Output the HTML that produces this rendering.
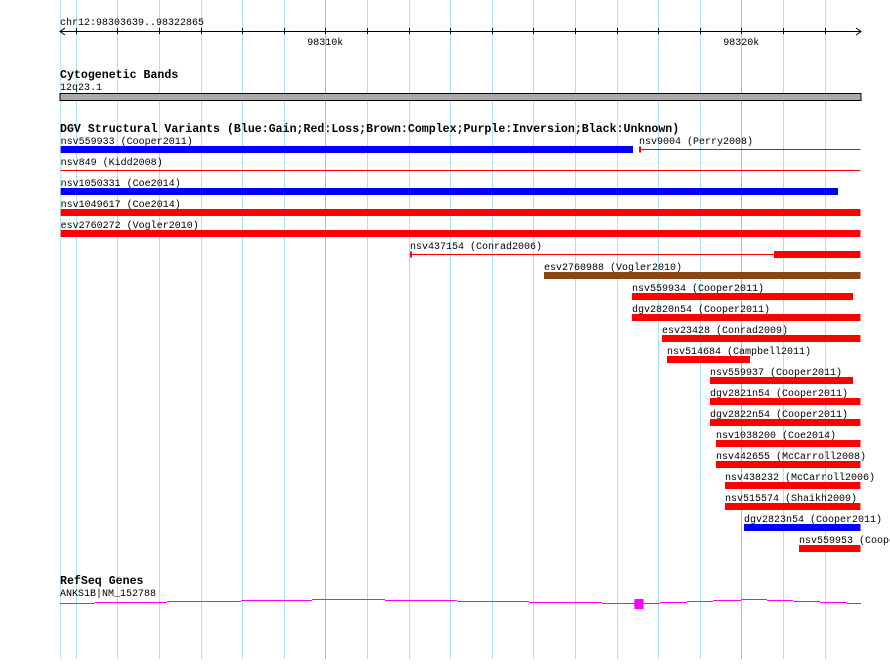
<!DOCTYPE html>
<html><head><meta charset="utf-8"><style>
body{margin:0;background:#fff;}
svg text{font-family:"Liberation Mono","DejaVu Sans Mono",monospace;}
</style></head><body>
<svg id="c" width="890" height="659" xmlns="http://www.w3.org/2000/svg">
<rect x="0" y="0" width="890" height="659" fill="#fff"/>
<g id="grid"></g>
<g id="ruler"></g>
<text x="60" y="25" font-size="10" fill="#000">chr12:98303639..98322865</text>
<text x="60" y="78" font-size="11.6" font-weight="bold" fill="#000">Cytogenetic Bands</text>
<text x="60" y="90" font-size="10" fill="#000">12q23.1</text>
<rect x="60" y="93.5" width="801" height="7" fill="#aaa" stroke="#000" stroke-width="1"/>
<text x="60" y="132" font-size="11.6" font-weight="bold" fill="#000">DGV Structural Variants (Blue:Gain;Red:Loss;Brown:Complex;Purple:Inversion;Black:Unknown)</text>
<g id="feats"></g>
<text x="60" y="584" font-size="11.6" font-weight="bold" fill="#000">RefSeq Genes</text>
<text x="60" y="596" font-size="10" fill="#000">ANKS1B|NM_152788</text>
<g id="gene"></g>
</svg>
<script>
const NS="http://www.w3.org/2000/svg";
const regionStart=98303639, regionEnd=98322865;
const names=["nsv559933 (Cooper2011)","nsv9004 (Perry2008)","nsv849 (Kidd2008)","nsv1050331 (Coe2014)","nsv1049617 (Coe2014)","esv2760272 (Vogler2010)","nsv437154 (Conrad2006)","esv2760988 (Vogler2010)","nsv559934 (Cooper2011)","dgv2820n54 (Cooper2011)","esv23428 (Conrad2009)","nsv514684 (Campbell2011)","nsv559937 (Cooper2011)","dgv2821n54 (Cooper2011)","dgv2822n54 (Cooper2011)","nsv1038200 (Coe2014)","nsv442655 (McCarroll2008)","nsv438232 (McCarroll2006)","nsv515574 (Shaikh2009)","dgv2823n54 (Cooper2011)","nsv559953 (Cooper2011)"];
const starts=[98303639,98317541,98303639,98303639,98303639,98303639,98312036,98315257,98317373,98317373,98318094,98318214,98319248,98319248,98319248,98319392,98319392,98319608,98319608,98320065,98321387];
const ends=[98317397,98322865,98322865,98322325,98322865,98322865,98322865,98322865,98322685,98322865,98322865,98320209,98322685,98322865,98322865,98322865,98322865,98322865,98322865,98322865,98322865];
const types=["gain","loss-thin","loss-thin","gain","loss","loss","loss-split","complex","loss","loss","loss","loss","loss","loss","loss","loss","loss","loss","loss","gain","loss"];
const rows=[0,0,1,2,3,4,5,6,7,8,9,10,11,12,13,14,15,16,17,18,19];
const splitThick=[0,0,0,0,0,0,98320786,0,0,0,0,0,0,0,0,0,0,0,0,0,0];
const tickKb=[98304,98305,98306,98307,98308,98309,98310,98311,98312,98313,98314,98315,98316,98317,98318,98319,98320,98321,98322];
const tickLabels=["98310k","98320k"];
const exonStart=[98317430], exonEnd=[98317650];
function X(bp){return 325.3+(bp-98310000)*0.0416;}
function mk(tag,attrs,parent){const e=document.createElementNS(NS,tag);for(const k in attrs)e.setAttribute(k,attrs[k]);parent.appendChild(e);return e;}
const grid=document.getElementById('grid'), ruler=document.getElementById('ruler');
mk('line',{x1:X(regionStart),x2:X(regionStart),y1:0,y2:659,stroke:'#a8e4ee'},grid);
tickKb.forEach(kb=>{
 const x=Math.round(X(kb*1000))+0.5;
 const major=kb%10===0;
 const l=mk('line',{x1:x,x2:x,y1:0,y2:659,stroke:major?'#8cc8e8':'#a8e4ee'},grid);
 
 
 const t=mk('line',{x1:x,x2:x,y1:28,y2:34,stroke:'#000'},ruler);
 
 
 if(major){const lab=tickLabels.find(s=>s===(kb/1000*1000/1000*1000/1000)+'k')||(kb/1000|0)+'';}
});
tickLabels.forEach(s=>{
 const kb=parseInt(s);
 const t=mk('text',{x:X(kb*1000),y:45,'font-size':10,'text-anchor':'middle',fill:'#000'},ruler);
 t.textContent=s;
 
 
});
const axl=mk('line',{x1:60,x2:861,y1:31.5,y2:31.5,stroke:'#000'},ruler);


mk('polyline',{points:'65,28 60,31.5 65,35',fill:'none',stroke:'#000'},ruler);
mk('polyline',{points:'856,28 861,31.5 856,35',fill:'none',stroke:'#000'},ruler);
const feats=document.getElementById('feats');
const colors={gain:'#0000ff',loss:'#ff0000','loss-thin':'#ff0000','loss-split':'#ff0000',complex:'#8b4513'};
names.forEach((n,i)=>{
 const y=146+rows[i]*21;
 const x1=X(starts[i]), x2=X(ends[i]);
 const g=mk('g',{},feats);
 
 
 const t=mk('text',{x:x1,y:y-2,'font-size':10,fill:'#000'},g);
 t.textContent=n;
 const ty=types[i], c=colors[ty];
 if(ty==='loss-thin'||ty==='loss-split'){
  mk('line',{x1:x1,x2:x2,y1:y+3.5,y2:y+3.5,stroke:c},g);
  if(i!==2) mk('rect',{x:x1,y:y+0.5,width:2,height:6,fill:c},g);
  if(ty==='loss-split'){const xs=X(splitThick[i]);mk('rect',{x:xs,y:y,width:x2-xs,height:7,fill:c},g);}
 } else {
  mk('rect',{x:x1,y:y,width:x2-x1,height:7,fill:c},g);
 }
});
const gene=document.getElementById('gene');
const segs=[[60,95,603],[95,167,602],[167,241,601],[241,312,600],[312,385,599],[385,457,600],[457,529,601],[529,602,602],[602,660,603],[660,687,602],[687,713,601],[713,741,600],[741,767,599],[767,793,600],[793,820,601],[820,847,602],[847,861,603]];
const gg=mk('g',{},gene);


segs.forEach(s=>mk('line',{x1:s[0],x2:s[1],y1:s[2]+0.5,y2:s[2]+0.5,stroke:'#ff00ff'},gg));
exonStart.forEach((s,i)=>{const r=mk('rect',{x:X(s),y:599,width:X(exonEnd[i])-X(s),height:10,fill:'#ff00ff'},gg);
 
 });
</script>
</body></html>
